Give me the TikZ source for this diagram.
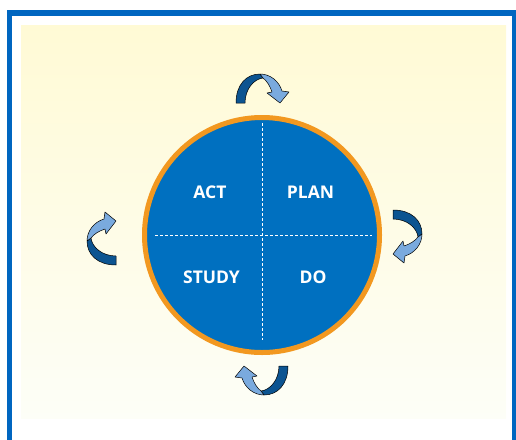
\documentclass[tikz,border=0pt]{standalone}
\usepackage{fontspec}
\setmainfont{Open Sans}
\usetikzlibrary{positioning}

\definecolor{frame_blue}{RGB}{0,102,192}
\definecolor{disc_blue}{RGB}{0,112,192}
\definecolor{ring_orange}{RGB}{242,152,32}
\definecolor{band_dark}{RGB}{12,84,145}
\definecolor{band_light}{RGB}{122,170,222}
\definecolor{panel_top}{RGB}{255,250,213}
\definecolor{panel_bottom}{RGB}{253,254,247}

\tikzstyle{cycle_disc} = [
    circle,
    draw=ring_orange,
    line width=5pt,
    fill=disc_blue,
    minimum size=235pt,
    inner sep=0pt
]
\tikzstyle{quarter_label} = [
    white,
    font=\fontsize{17.5}{20}\selectfont\bfseries,
    inner sep=0pt
]
\tikzstyle{split_line} = [
    white,
    line width=1pt,
    dash pattern=on 3pt off 2pt
]
\tikzstyle{dark_band} = [fill=band_dark, draw=black, line width=0.5pt, line join=round]
\tikzstyle{light_band} = [fill=band_light, draw=black, line width=0.5pt, line join=round]

% one turning arrow, drawn with its feet on the local x axis
\newcommand{\turnarrow}{%
    \path[dark_band] (-26,0) .. controls (-26,-18) and (-16,-29) .. (-2,-29)
        -- (1,-25) .. controls (-8,-24) and (-17,-14) .. (-17,0) -- cycle;
    \path[light_band] (-2,-29) .. controls (8,-29) and (17,-22) .. (20,-12)
        -- (27,-11) -- (18,0) -- (5,-10) -- (10,-11)
        .. controls (8,-17) and (5,-22) .. (1,-25) -- cycle;
}

\begin{document}
\begin{tikzpicture}[x=1pt, y=-1pt]
\useasboundingbox (0,0) rectangle (516,439);
\clip (0,0) rectangle (516,439);

% background panel and frame
\shade[top color=panel_top, bottom color=panel_bottom] (21,25) rectangle (506,418);
\draw[frame_blue, line width=5.5pt] (9.5,13) rectangle (514.5,470);

% the disc
\node [cycle_disc] (disc) at (262,235) {};
\coordinate (split_top) at (262,123);
\coordinate (split_bottom) at (262,340);
\coordinate (split_left) at (155,235.5);
\coordinate (split_right) at (372,235.5);
\draw [split_line] (split_top) -- (split_bottom);
\draw [split_line] (split_left) -- (split_right);

\node [quarter_label] (act) at (210,192) {ACT};
\node [quarter_label] (plan) at (310.5,192) {PLAN};
\node [quarter_label] (study) at (211.5,277) {STUDY};
\node [quarter_label] (do) at (313,277) {DO};

% turning arrows round the disc
\begin{scope}[shift={(262,103)}]
    \turnarrow
\end{scope}
\begin{scope}[shift={(393,236)}, rotate=-90]
    \turnarrow
\end{scope}
\begin{scope}[shift={(262,366)}, rotate=180]
    \turnarrow
\end{scope}
\begin{scope}[shift={(116,239)}, rotate=90]
    \turnarrow
\end{scope}
\end{tikzpicture}
\end{document}
